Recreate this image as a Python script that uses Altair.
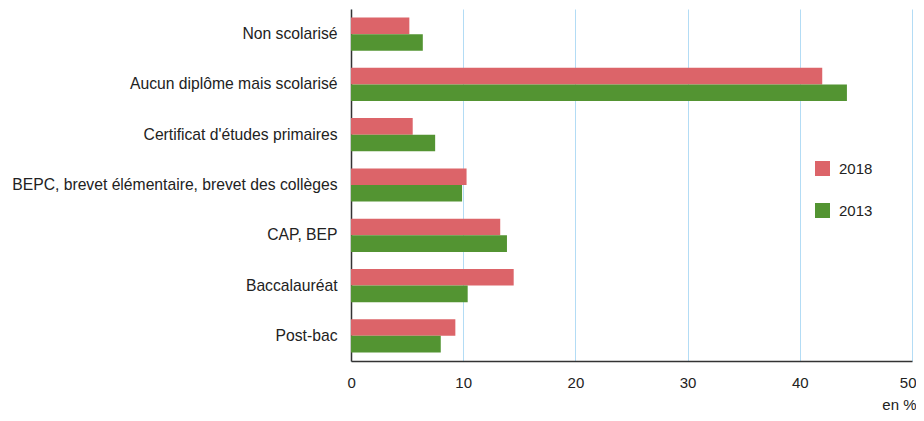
import altair as alt
import pandas as pd

categories = [
    "Non scolarisé",
    "Aucun diplôme mais scolarisé",
    "Certificat d'études primaires",
    "BEPC, brevet élémentaire, brevet des collèges",
    "CAP, BEP",
    "Baccalauréat",
    "Post-bac",
]
values_2018 = [5.2, 42.0, 5.5, 10.3, 13.3, 14.5, 9.3]
values_2013 = [6.4, 44.2, 7.5, 9.9, 13.9, 10.4, 8.0]
series = ["2018", "2013"]
colors = ["#dc6469", "#539432"]

rows = []
for c, a, b in zip(categories, values_2018, values_2013):
    rows.append({"cat": c, "year": "2018", "v": a})
    rows.append({"cat": c, "year": "2013", "v": b})
df = pd.DataFrame(rows)

FONT = "Liberation Sans"

bars = alt.Chart(df).mark_bar().encode(
    y=alt.Y("cat:N", sort=categories,
            scale=alt.Scale(paddingInner=0.34, paddingOuter=0.17),
            axis=alt.Axis(title=None, ticks=False, labelPadding=14, labelLimit=400,
                          labelFont=FONT, labelFontSize=15.7, labelColor="#222222",
                          domainColor="#333333", domainWidth=1.5, grid=False)),
    yOffset=alt.YOffset("year:N", sort=series, scale=alt.Scale(paddingInner=0, paddingOuter=0)),
    x=alt.X("v:Q", scale=alt.Scale(domain=[0, 50], nice=False),
            axis=alt.Axis(values=[0, 10, 20, 30, 40, 50], ticks=False, labelPadding=14,
                          labelFlush=True, labelFlushOffset=4,
                          labelFont=FONT, labelFontSize=15, labelColor="#222222",
                          domainColor="#333333", domainWidth=1.5,
                          grid=True, gridColor="#b3dcf5", gridWidth=1,
                          title="en %", titleFont=FONT, titleFontSize=15,
                          titleFontWeight="normal", titleColor="#222222",
                          titleAlign="right", titleAnchor="end",
                          titleX=565, titleY=48, titleBaseline="alphabetic")),
    color=alt.Color("year:N", sort=series,
                    scale=alt.Scale(domain=series, range=colors),
                    legend=alt.Legend(title=None, orient="none", legendX=464, legendY=152,
                                      symbolType="square", symbolSize=225,
                                      symbolStrokeWidth=0, rowPadding=26,
                                      labelFont=FONT, labelFontSize=15, labelColor="#222222",
                                      labelOffset=9)),
)

chart = bars.properties(
    width=561, height=352,
    autosize=alt.AutoSizeParams(type="none"),
    padding={"left": 343, "top": 1, "right": 4, "bottom": 52},
).configure(background="white").configure_view(stroke=None)

chart.save("out.html", embed_options={"renderer": "svg", "actions": False})
